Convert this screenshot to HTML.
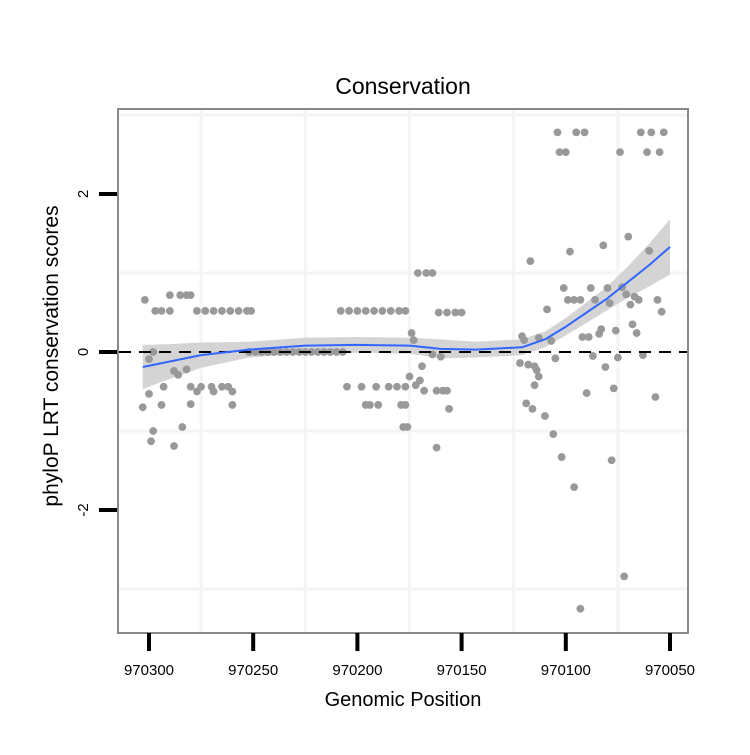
<!DOCTYPE html>
<html><head><meta charset="utf-8"><style>
body{margin:0;background:#fff}
svg text{font-family:"Liberation Sans",sans-serif}
</style></head><body>
<svg id="c" width="750" height="750" xmlns="http://www.w3.org/2000/svg">
<rect width="750" height="750" fill="#fff"/>
<text x="403" y="94" text-anchor="middle" font-size="23">Conservation</text>
<g id="grid"></g>
<g id="band"></g>
<g id="pts"></g>
<g id="ref"></g>
<g id="fit"></g>
<rect x="118" y="109" width="570" height="524" fill="none" stroke="#888" stroke-width="2"/>
<g id="axes"></g>
<text x="403" y="706" text-anchor="middle" font-size="20">Genomic Position</text>
<text transform="translate(58,356) rotate(-90)" text-anchor="middle" font-size="21">phyloP LRT conservation scores</text>
</svg>
<script>
const xTicks=[970300,970250,970200,970150,970100,970050];
const yTicks=[-2,0,2];
const xGrid=[970275,970225,970175,970125,970075];
const yGrid=[-3,-1,1,3];
const ptPos=[970302,970290,970285,970282,970280,970297,970294,970290,970277,970273,970269,970265,970261,970257,970253,970251,970208,970204,970200,970196,970192,970188,970184,970180,970177,
970298,970300,970288,970286,970282,970293,970280,970275,970270,970265,970262,970277,970269,970260,970300,970303,970294,970280,970260,970298,970299,970288,970284,
970205,970198,970191,970185,970181,970177,970196,970194,970190,970177,970176,970175,970174,970173,
970252,970249,970246,970243,970240,970237,970234,970231,970228,970225,970222,970219,970216,970213,970210,970207,
970171,970167,970164,970161,970157,970153,970150,970164,970169,970172,970168,970170,970162,970159,970157,970156,970162,970160,970179,970178,
970104,970095,970091,970103,970100,970074,970064,970059,970053,970061,970055,
970070,970082,970098,970117,970060,970101,970088,970080,970073,970071,970067,970065,970069,970099,970096,970093,970086,970079,970109,970056,970054,
970068,970066,970076,970083,970084,970092,970089,970121,970120,970113,970107,
970105,970087,970075,970063,970122,970118,970115,970114,970113,970115,970081,970090,970077,970057,
970119,970116,970110,970106,970102,970096,970078,970072,970093];
const ptScore=[0.66,0.72,0.72,0.72,0.72,0.52,0.52,0.52,0.52,0.52,0.52,0.52,0.52,0.52,0.52,0.52,0.52,0.52,0.52,0.52,0.52,0.52,0.52,0.52,0.52,
0.0,-0.09,-0.24,-0.29,-0.22,-0.44,-0.44,-0.44,-0.44,-0.44,-0.44,-0.5,-0.5,-0.5,-0.53,-0.7,-0.67,-0.66,-0.67,-1.0,-1.13,-1.19,-0.95,
-0.44,-0.44,-0.44,-0.44,-0.44,-0.44,-0.67,-0.67,-0.67,-0.67,-0.95,-0.31,0.24,0.15,
0,0,0,0,0,0,0,0,0,0,0,0,0,0,0,0,
1.0,1.0,1.0,0.5,0.5,0.5,0.5,-0.03,-0.18,-0.42,-0.49,-0.36,-0.49,-0.49,-0.49,-0.72,-1.21,-0.06,-0.67,-0.95,
2.78,2.78,2.78,2.53,2.53,2.53,2.78,2.78,2.78,2.53,2.53,
1.46,1.35,1.27,1.15,1.28,0.81,0.81,0.81,0.82,0.73,0.7,0.66,0.6,0.66,0.66,0.66,0.66,0.62,0.54,0.66,0.51,
0.35,0.24,0.27,0.29,0.23,0.19,0.19,0.2,0.15,0.18,0.14,
-0.08,-0.05,-0.07,-0.04,-0.14,-0.16,-0.18,-0.23,-0.31,-0.42,-0.19,-0.52,-0.46,-0.57,
-0.65,-0.72,-0.81,-1.04,-1.33,-1.71,-1.37,-2.84,-3.25];
const fitPos=[970303,970290,970275,970252,970225,970200,970175,970160,970143,970121,970110,970100,970090,970080,970070,970060,970050];
const fitY=[-0.19,-0.12,-0.04,0.03,0.08,0.09,0.08,0.04,0.03,0.06,0.16,0.32,0.5,0.68,0.89,1.1,1.33];
const fitSE=[0.28,0.22,0.16,0.1,0.1,0.1,0.1,0.12,0.1,0.1,0.1,0.11,0.13,0.15,0.2,0.27,0.35];
const NS='http://www.w3.org/2000/svg';
const X=v=>149+(970300-v)*104.2/50;
const Y=v=>352-v*79;
function mk(p,t,a){const e=document.createElementNS(NS,t);for(const k in a)e.setAttribute(k,a[k]);document.getElementById(p).appendChild(e);return e;}
xGrid.forEach(v=>{const e=mk('grid','line',{x1:X(v),x2:X(v),y1:110,y2:632,stroke:'#f4f4f4','stroke-width':3});

});
yGrid.forEach(v=>{const e=mk('grid','line',{x1:119,x2:687,y1:Y(v),y2:Y(v),stroke:'#f4f4f4','stroke-width':3});

});
let up=fitPos.map((p,i)=>X(p)+','+Y(fitY[i]+fitSE[i]));
let dn=fitPos.map((p,i)=>X(p)+','+Y(fitY[i]-fitSE[i])).reverse();
const b=mk('band','polygon',{points:up.concat(dn).join(' '),fill:'#d4d4d4'});


ptPos.forEach((p,i)=>{const e=mk('pts','circle',{cx:X(p),cy:Y(ptScore[i]),r:3.9,fill:'#999'});

});
const z=mk('ref','line',{x1:119,x2:687,y1:Y(0),y2:Y(0),stroke:'#000','stroke-width':2,'stroke-dasharray':'12,8'});


const f=mk('fit','polyline',{points:fitPos.map((p,i)=>X(p)+','+Y(fitY[i])).join(' '),fill:'none',stroke:'#3366ff','stroke-width':2,'stroke-linejoin':'round'});


xTicks.forEach(v=>{const t=mk('axes','line',{x1:X(v),x2:X(v),y1:633,y2:651,stroke:'#000','stroke-width':4});


const l=mk('axes','text',{x:X(v),y:675,'text-anchor':'middle','font-size':15});l.textContent=v;

});
yTicks.forEach(v=>{const t=mk('axes','line',{x1:99,x2:117,y1:Y(v),y2:Y(v),stroke:'#000','stroke-width':4});


const l=mk('axes','text',{transform:'translate(88,'+Y(v)+') rotate(-90)','text-anchor':'middle','font-size':15});l.textContent=v;

});
</script>
</body></html>
